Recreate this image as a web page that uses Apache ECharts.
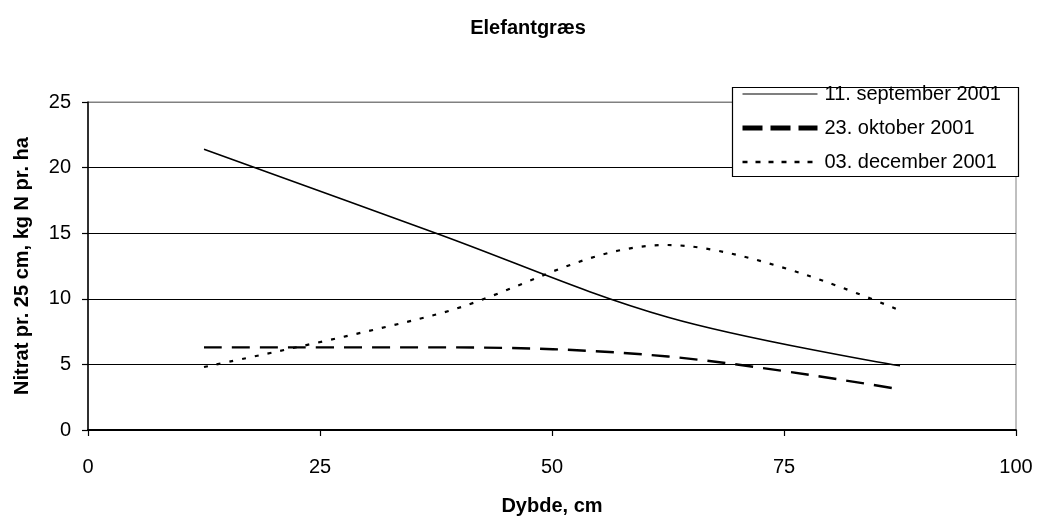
<!DOCTYPE html>
<html>
<head>
<meta charset="utf-8">
<script src="https://cdn.jsdelivr.net/npm/echarts@6/dist/echarts.min.js"></script>
<style>html,body{margin:0;padding:0;background:#fff}#c{width:1042px;height:522px}</style>
</head>
<body>
<div id="c"></div>
<script>
var depths = [12.5, 37.5, 62.5, 87.5];
var sep = [21.4, 15.0, 8.6, 4.9];
var okt = [6.3, 6.3, 5.6, 3.1];
var dec = [4.8, 8.8, 14.1, 9.1];
var seriesNames = ['11. september 2001', '23. oktober 2001', '03. december 2001'];
var xTicks = [0, 25, 50, 75, 100];
var yTicks = [0, 5, 10, 15, 20, 25];

function pairs(vals){ return depths.map(function(d,i){ return [d, vals[i]]; }); }
var FONT = '"Liberation Sans", Arial, sans-serif';
var chart = echarts.init(document.getElementById('c'));
chart.setOption({
  animation: false,
  backgroundColor: '#fff',
  color: ['#000', '#000', '#000'],
  title: {
    text: 'Elefantgræs', left: 523, top: 13, textAlign: 'center',
    textStyle: {fontFamily: FONT, fontSize: 20, fontWeight: 'bold', color: '#000'}
  },
  graphic: [{
    type: 'rect', z: 3, shape: {x: 732.5, y: 87.5, width: 286, height: 89},
    style: {fill: '#fff', stroke: '#000', lineWidth: 1.2}
  }],
  grid: {left: 88, right: 26, top: 102, bottom: 92, show: true, borderColor: '#808080', borderWidth: 1, backgroundColor: 'transparent'},
  legend: {
    orient: 'vertical', left: 740, top: 84, z: 5,
    itemStyle: {opacity: 0},
    data: [
      {name: seriesNames[0], itemStyle: {opacity: 0}, lineStyle: {width: 1.2, color: '#000'}},
      {name: seriesNames[1], itemStyle: {opacity: 0}, lineStyle: {width: 5, type: [20, 8], color: '#000'}},
      {name: seriesNames[2], itemStyle: {opacity: 0}, lineStyle: {width: 2.5, type: [5, 8], color: '#000'}}
    ],
    padding: 0, itemGap: 14, itemWidth: 75, itemHeight: 20,
    textStyle: {fontFamily: FONT, fontSize: 20, color: '#000', padding: [0,0,0,2]}
  },
  xAxis: {
    type: 'value', min: 0, max: 100, interval: 25,
    name: 'Dybde, cm', nameLocation: 'middle', nameGap: 66,
    nameTextStyle: {fontFamily: FONT, fontSize: 20, fontWeight: 'bold', color: '#000'},
    axisLine: {lineStyle: {color: '#000', width: 1.8}},
    axisTick: {show: true, inside: false, length: 6, lineStyle: {color: '#000', width: 1.2}},
    axisLabel: {fontFamily: FONT, fontSize: 20, color: '#000', margin: 27,
      formatter: function(v){ return xTicks.indexOf(v) >= 0 ? String(v) : ''; }},
    splitLine: {show: false}
  },
  yAxis: {
    type: 'value', min: 0, max: 25, interval: 5,
    name: 'Nitrat pr. 25 cm, kg N pr. ha', nameLocation: 'middle', nameGap: 56,
    nameTextStyle: {fontFamily: FONT, fontSize: 20, fontWeight: 'bold', color: '#000'},
    axisLine: {show: true, lineStyle: {color: '#000', width: 1.5}},
    axisTick: {show: true, inside: false, length: 6, lineStyle: {color: '#000', width: 1.2}},
    axisLabel: {fontFamily: FONT, fontSize: 20, color: '#000', margin: 17,
      formatter: function(v){ return yTicks.indexOf(v) >= 0 ? String(v) : ''; }},
    splitLine: {show: true, lineStyle: {color: ['#000','#000','#000','#000','#000','#808080'], width: 1.2}}
  },
  series: [
    {name: seriesNames[0], type: 'line', data: pairs(sep), smooth: 0.35, symbol: 'none',
     itemStyle: {color: '#000'}, lineStyle: {color: '#000', width: 1.6, type: 'solid'}},
    {name: seriesNames[1], type: 'line', data: pairs(okt), smooth: 0.35, symbol: 'none',
     itemStyle: {color: '#000'}, lineStyle: {color: '#000', width: 2.4, type: [18, 10]}},
    {name: seriesNames[2], type: 'line', data: pairs(dec), smooth: 0.35, symbol: 'none',
     itemStyle: {color: '#000'}, lineStyle: {color: '#000', width: 2.2, type: [4, 9]}}
  ]
});
</script>
</body>
</html>
